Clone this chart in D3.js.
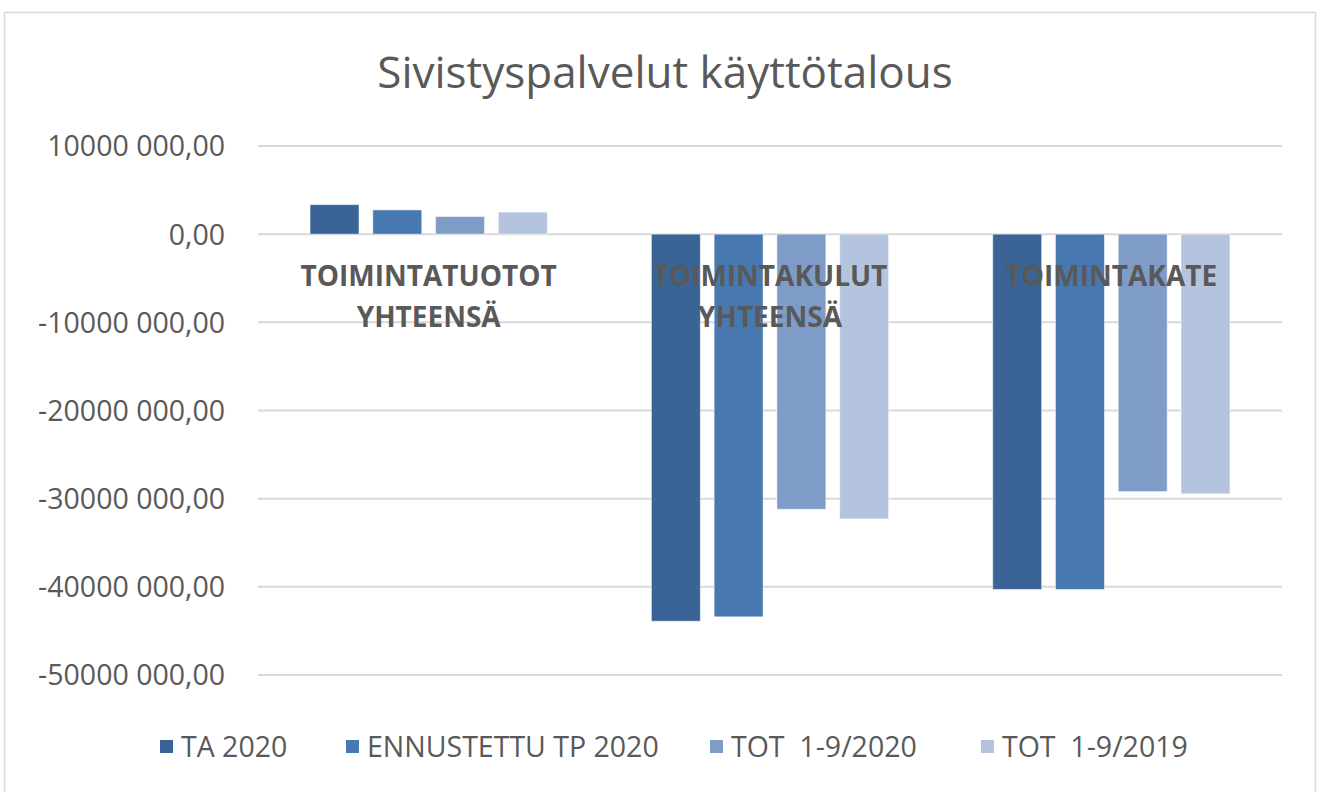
<!DOCTYPE html>
<html>
<head>
<meta charset="utf-8">
<script src="https://cdn.jsdelivr.net/npm/d3@7"></script>
<style>
  body { margin: 0; background: #fff; }
  svg text { font-family: "Open Sans", sans-serif; fill: #595959; }
</style>
</head>
<body>
<div id="chart"></div>
<script>
// data
var categories = [["TOIMINTATUOTOT", "YHTEENSÄ"], ["TOIMINTAKULUT", "YHTEENSÄ"], ["TOIMINTAKATE"]];
var seriesNames = ["TA 2020", "ENNUSTETTU TP 2020", "TOT  1-9/2020", "TOT  1-9/2019"];
var ta2020 = [3350000, -43900000, -40300000];
var ennuste2020 = [2750000, -43400000, -40300000];
var tot2020 = [2000000, -31200000, -29200000];
var tot2019 = [2500000, -32300000, -29450000];
var yTicks = [10000000, 0, -10000000, -20000000, -30000000, -40000000, -50000000];
var yTickLabels = ["10000 000,00", "0,00", "-10000 000,00", "-20000 000,00", "-30000 000,00", "-40000 000,00", "-50000 000,00"];
var colors = ["#3b6496", "#4878b0", "#7f9cc8", "#b4c4df"];

var seriesValues = [ta2020, ennuste2020, tot2020, tot2019];

var width = 1322, height = 792;

var svg = d3.select("#chart").append("svg")
    .attr("width", width)
    .attr("height", height);

// chart frame
svg.append("rect")
    .attr("x", 4.5).attr("y", 12.5)
    .attr("width", 1311).attr("height", 800)
    .attr("fill", "none")
    .attr("stroke", "#d9d9d9")
    .attr("stroke-width", 1.5);

svg.append("text")
    .attr("x", 665)
    .attr("y", 88)
    .attr("text-anchor", "middle")
    .attr("font-size", 44)
    .text("Sivistyspalvelut käyttötalous");

var x0 = d3.scaleBand()
    .domain(d3.range(categories.length))
    .range([258, 1282])
    .paddingInner(0.305)
    .paddingOuter(0.1525);

var x1 = d3.scaleBand()
    .domain(d3.range(seriesNames.length))
    .range([0, x0.bandwidth()])
    .paddingInner(0.22);

var y = d3.scaleLinear()
    .domain([-50000000, 10000000])
    .range([675, 146]);

// gridlines
svg.append("g")
    .selectAll("line")
    .data(yTicks)
    .enter().append("line")
    .attr("x1", 258).attr("x2", 1282)
    .attr("y1", function(d) { return y(d); })
    .attr("y2", function(d) { return y(d); })
    .attr("stroke", "#d9d9d9")
    .attr("stroke-width", 2);

// y labels
var yAxis = d3.axisLeft(y)
    .tickValues(yTicks)
    .tickSize(0)
    .tickPadding(0)
    .tickFormat(function(d, i) { return yTickLabels[i]; });

var ga = svg.append("g")
    .attr("transform", "translate(225,0)")
    .call(yAxis);
ga.select(".domain").remove();
ga.selectAll("text")
    .attr("font-size", 28.5)
    .attr("dy", "0.35em")
    .style("font-family", "'Open Sans', sans-serif")
    .attr("fill", "#595959");

// bars
var groups = svg.append("g")
    .selectAll("g")
    .data(categories)
    .enter().append("g")
    .attr("transform", function(d, i) { return "translate(" + x0(i) + ",0)"; });

groups.selectAll("rect")
    .data(function(d, ci) {
      return seriesValues.map(function(s, si) { return {s: si, v: s[ci]}; });
    })
    .enter().append("rect")
    .attr("x", function(d) { return x1(d.s); })
    .attr("width", x1.bandwidth())
    .attr("y", function(d) { return y(Math.max(0, d.v)); })
    .attr("height", function(d) { return Math.abs(y(d.v) - y(0)); })
    .attr("fill", function(d) { return colors[d.s]; })
    .attr("stroke", "#ffffff")
    .attr("stroke-opacity", 0.5)
    .attr("stroke-width", 1);

// category labels (drawn over the bars)
var catLabels = svg.append("g")
    .selectAll("text")
    .data(categories)
    .enter().append("text")
    .attr("x", function(d, i) { return x0(i) + x0.bandwidth() / 2; })
    .attr("y", 286)
    .attr("text-anchor", "middle")
    .attr("font-size", 28)
    .attr("font-weight", "bold");

catLabels.selectAll("tspan")
    .data(function(d) { return d; })
    .enter().append("tspan")
    .attr("x", function() { return d3.select(this.parentNode).attr("x"); })
    .attr("dy", function(d, i) { return i === 0 ? 0 : 41; })
    .text(function(d) { return d; });

// legend
var legendX = [160, 346, 710, 981];
var legend = svg.append("g")
    .selectAll("g")
    .data(seriesNames)
    .enter().append("g")
    .attr("transform", function(d, i) { return "translate(" + legendX[i] + ",740)"; });

legend.append("rect")
    .attr("width", 13).attr("height", 13)
    .attr("fill", function(d, i) { return colors[i]; });

legend.append("text")
    .attr("x", 21)
    .attr("y", 17)
    .attr("font-size", 28.5)
    .attr("xml:space", "preserve")
    .style("white-space", "pre")
    .text(function(d) { return d; });
</script>
</body>
</html>
